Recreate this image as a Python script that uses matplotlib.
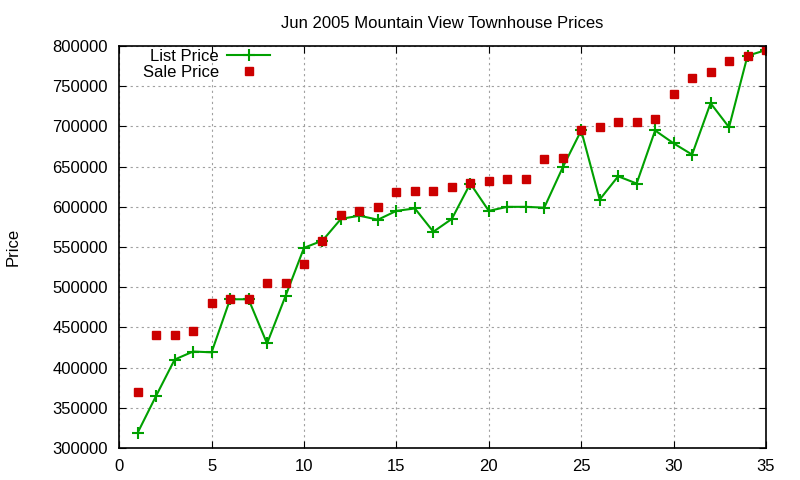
import matplotlib
matplotlib.use('Agg')
import matplotlib.pyplot as plt

plt.rcParams['font.family'] = ['Liberation Sans', 'DejaVu Sans']

# index of the listing, 1..35
idx = list(range(1, 36))

list_price = [319000, 365000, 410000, 420000, 419000, 485000, 485000, 430000, 489000, 549000,
              558000, 585000, 589000, 584000, 595000, 598000, 569000, 585000, 629000, 595000,
              600000, 600000, 599000, 649000, 695000, 609000, 638000, 629000, 695000, 679000,
              665000, 729000, 699000, 788000, 795000]

sale_price = [370000, 440000, 440000, 445000, 480000, 485000, 485000, 505000, 505000, 529000,
              558000, 590000, 595000, 600000, 619000, 620000, 620000, 625000, 630000, 632000,
              635000, 635000, 660000, 661000, 695000, 699000, 705000, 706000, 709000, 740000,
              760000, 768000, 781000, 788000, 795000]

fig = plt.figure(figsize=(8, 4.8), dpi=100)
ax = fig.add_axes([0.149, 0.0667, 0.8085, 0.8373])

ax.plot(idx, list_price, color='#00a000', lw=1.5, marker='+', ms=9, mew=1.5,
        label='List Price')
ax.plot(idx, sale_price, ls='none', color='#cc0000', marker='s', ms=6,
        label='Sale Price')

ax.set_xlim(0, 35)
ax.set_ylim(300000, 800000)
ax.set_xticks(range(0, 36, 5))
ax.set_yticks(range(300000, 800001, 50000))
ax.tick_params(direction='in', length=5, top=True, right=True, labelsize=12, pad=8)
ax.grid(True, color='#a0a0a0', ls=(0, (2, 3)), lw=0.8)
for s in ax.spines.values():
    s.set_linewidth(1.2)

ax.set_title('Jun 2005 Mountain View Townhouse Prices', fontsize=12, pad=13)
fig.text(0.016, 0.485, 'Price', rotation=90, fontsize=12, va='center', ha='center')

leg = ax.legend(loc='upper left', frameon=False, markerfirst=False, fontsize=12,
                handlelength=2.6, handletextpad=0.5, borderaxespad=0.0,
                labelspacing=0.06, bbox_to_anchor=(0.026, 1.01))

fig.savefig('out.png', dpi=100)
